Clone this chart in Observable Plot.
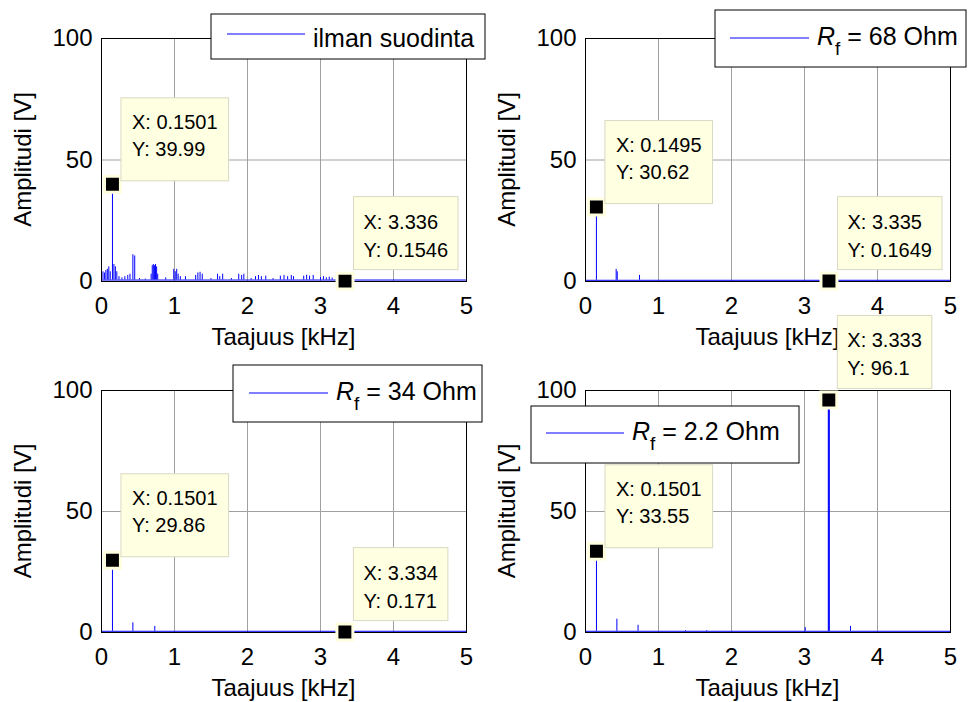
<!DOCTYPE html>
<html><head><meta charset="utf-8">
<script src="https://cdn.jsdelivr.net/npm/d3@7"></script>
<script src="https://cdn.jsdelivr.net/npm/@observablehq/plot@0.6"></script>
<style>
body{margin:0;background:#fff;}
#wrap{position:relative;width:968px;height:702px;overflow:hidden;background:#fff;}
</style></head><body><div id="wrap"></div>
<script>
// ---- data ----
const xTicks = [0, 1, 2, 3, 4, 5];
const yTicks = [0, 50, 100];
const xGrid = [1, 2, 3, 4];
const yGrid = [50];
const xLabel = "Taajuus [kHz]";
const yLabel = "Amplitudi [V]";

const legendNames = ["ilman suodinta", "68 Ohm", "34 Ohm", "2.2 Ohm"];
const legendFiltered = [false, true, true, true];

// spectra: [frequency kHz, amplitude V]
const spec1 = [[0,11],[0.02,4],[0.04,3.5],[0.06,4.5],[0.08,5],[0.10,6],[0.12,4],[0.1501,39.99],[0.17,7],[0.19,6],[0.21,4],[0.24,2],[0.28,1.5],[0.32,2],[0.36,2.5],[0.39,3],[0.43,11],[0.455,10.5],[0.52,1.2],[0.6,1.0],[0.68,3],[0.695,6.5],[0.71,7],[0.725,6.5],[0.74,7],[0.755,6],[0.77,3],[0.88,1.5],[0.99,5],[1.01,4],[1.03,5],[1.05,3],[1.08,2],[1.15,2],[1.29,2.5],[1.32,3.5],[1.35,3.8],[1.38,3],[1.5,1.2],[1.59,3],[1.62,2],[1.66,3],[1.78,1.2],[1.88,3],[1.92,2.5],[1.95,3],[2.05,1.2],[2.11,2],[2.15,2.5],[2.19,2],[2.25,2.2],[2.35,1.2],[2.45,2.2],[2.5,2.5],[2.55,2],[2.6,2.5],[2.63,2],[2.77,2.2],[2.81,2.6],[2.85,2.2],[2.9,2.5],[3.0,1.6],[3.04,2],[3.08,1.5],[3.12,1.8],[3.16,1.4]];
const spec2 = [[0.0,1.5],[0.1495,30.62],[0.42,5],[0.435,4],[0.74,2.5]];
const spec3 = [[0.0,1.5],[0.1501,29.86],[0.43,4],[0.73,2.5]];
const spec4 = [[0.0,3],[0.1501,33.55],[0.43,5.5],[0.72,3],[1.37,0.8],[1.66,0.8],[3.01,2],[3.326,95],[3.333,96.1],[3.34,95],[3.63,2.5]];
const baseLevels = [0.6, 0.5, 0.5, 0.5];

// data tips: [X, Y]
const tips1 = [[0.1501, 39.99], [3.336, 0.1546]];
const tips2 = [[0.1495, 30.62], [3.335, 0.1649]];
const tips3 = [[0.1501, 29.86], [3.334, 0.171]];
const tips4 = [[0.1501, 33.55], [3.333, 96.1]];

const spectra = [spec1, spec2, spec3, spec4];
const tipSets = [tips1, tips2, tips3, tips4];

// ---- layout (pixels) ----
const FONT = "Arial, 'Liberation Sans', sans-serif";
const BLUE = "#0000ff";
const layout = [
  {left: 0,   top: 0,   mt: 38, lg: {bx: 211, by: 14, bw: 274, bh: 45, lx1: 227, lx2: 305, ly: 34, tx: 313, ty: 46.5}},
  {left: 484, top: 0,   mt: 38, lg: {bx: 231, by: 10, bw: 251, bh: 57, lx1: 246, lx2: 325, ly: 38, tx: 333, ty: 44.5}},
  {left: 0,   top: 351, mt: 39, lg: {bx: 233, by: 14, bw: 249, bh: 57, lx1: 249, lx2: 328, ly: 42, tx: 336, ty: 48.5}},
  {left: 484, top: 351, mt: 39, lg: {bx: 47,  by: 55, bw: 268, bh: 57, lx1: 62,  lx2: 140, ly: 82, tx: 148, ty: 89}}
];
// tip box styles: first tip / second tip
const tipStyle = [
  {dx: 9, top: -86, bottom: -3, tdx: 20, b1: -55, b2: -28},
  {dx: 9, top: -84, bottom: -11, tdx: 19, b1: -52, b2: -24}
];

const wrap = document.getElementById("wrap");

for (let i = 0; i < 4; i++) {
  const L = layout[i];
  const base = baseLevels[i];
  const tips = tipSets[i];
  const chart = Plot.plot({
    width: 484, height: 351,
    marginLeft: 101, marginRight: 18, marginTop: L.mt, marginBottom: 70,
    x: {domain: [0, 5], label: null},
    y: {domain: [0, 100], label: null},
    style: {fontFamily: FONT, fontSize: "24px", color: "#000", background: "transparent", overflow: "visible"},
    marks: [
      Plot.gridX(xGrid, {stroke: "#a0a0a0", strokeOpacity: 1}),
      Plot.gridY(yGrid, {stroke: "#a0a0a0", strokeOpacity: 1}),
      Plot.ruleY([base], {stroke: BLUE, strokeWidth: 1}),
      Plot.ruleX(spectra[i], {x: d => d[0], y1: () => base, y2: d => d[1], stroke: BLUE, strokeWidth: 1}),
      Plot.frame({stroke: "#000", strokeWidth: 1}),
      Plot.axisX({ticks: xTicks, tickSize: 0, tickPadding: 15, label: null, tickFormat: d => String(d)}),
      Plot.axisY({ticks: yTicks, tickSize: 0, tickPadding: 9, label: null, tickFormat: d => String(d)}),
      Plot.dot(tips, {x: d => d[0], y: d => d[1], symbol: "square", r: 9, fill: "#000", stroke: "#ffffe0", strokeWidth: 3})
    ]
  });
  chart.style.position = "absolute";
  chart.style.left = L.left + "px";
  chart.style.top = L.top + "px";
  chart.style.overflow = "visible";
  chart.style.maxWidth = "none";
  wrap.appendChild(chart);

  const svg = d3.select(chart);
  const sx = chart.scale("x"), sy = chart.scale("y");

  // axis labels
  const plotLeft = 101, plotRight = 466;
  const plotTop = L.mt, plotBottom = 281;
  svg.append("text").attr("x", (plotLeft + plotRight) / 2).attr("y", 345)
    .attr("text-anchor", "middle").attr("font-family", FONT).attr("font-size", 24).attr("fill", "#000")
    .text(xLabel);
  svg.append("text").attr("transform", `translate(31,${(plotTop + plotBottom) / 2}) rotate(-90)`)
    .attr("text-anchor", "middle").attr("font-family", FONT).attr("font-size", 24).attr("fill", "#000")
    .text(yLabel);

  // data tips
  tips.forEach((t, k) => {
    const st = tipStyle[k];
    const mx = sx.apply(t[0]), my = sy.apply(t[1]);
    const g = svg.append("g").attr("text-anchor", "start");
    const rect = g.append("rect").attr("fill", "#ffffe1").attr("stroke", "#d9d9c4").attr("stroke-width", 1);
    const t1 = g.append("text").attr("x", mx + st.tdx).attr("y", my + st.b1).attr("text-anchor", "start")
      .attr("font-family", FONT).attr("font-size", 20).attr("fill", "#000").text("X: " + String(t[0]));
    const t2 = g.append("text").attr("x", mx + st.tdx).attr("y", my + st.b2).attr("text-anchor", "start")
      .attr("font-family", FONT).attr("font-size", 20).attr("fill", "#000").text("Y: " + String(t[1]));
    const w = Math.max(t1.node().getComputedTextLength(), t2.node().getComputedTextLength());
    rect.attr("x", mx + st.dx).attr("y", my + st.top)
      .attr("width", (st.tdx - st.dx) * 2 + w).attr("height", st.bottom - st.top);
  });

  // legend
  const lg = L.lg;
  const gl = svg.append("g").attr("text-anchor", "start");
  gl.append("rect").attr("x", lg.bx).attr("y", lg.by).attr("width", lg.bw).attr("height", lg.bh)
    .attr("fill", "#fff").attr("stroke", "#000").attr("stroke-width", 1);
  gl.append("line").attr("x1", lg.lx1).attr("x2", lg.lx2).attr("y1", lg.ly).attr("y2", lg.ly)
    .attr("stroke", BLUE).attr("stroke-width", 1);
  const lt = gl.append("text").attr("x", lg.tx).attr("y", lg.ty).attr("text-anchor", "start")
    .attr("font-family", FONT).attr("font-size", 25).attr("fill", "#000");
  if (legendFiltered[i]) {
    lt.append("tspan").attr("font-style", "italic").text("R");
    lt.append("tspan").attr("dy", 10).attr("font-size", 19).text("f");
    lt.append("tspan").attr("dy", -10).text(" = " + legendNames[i]);
  } else {
    lt.text(legendNames[i]);
  }
}
</script>
</body></html>
